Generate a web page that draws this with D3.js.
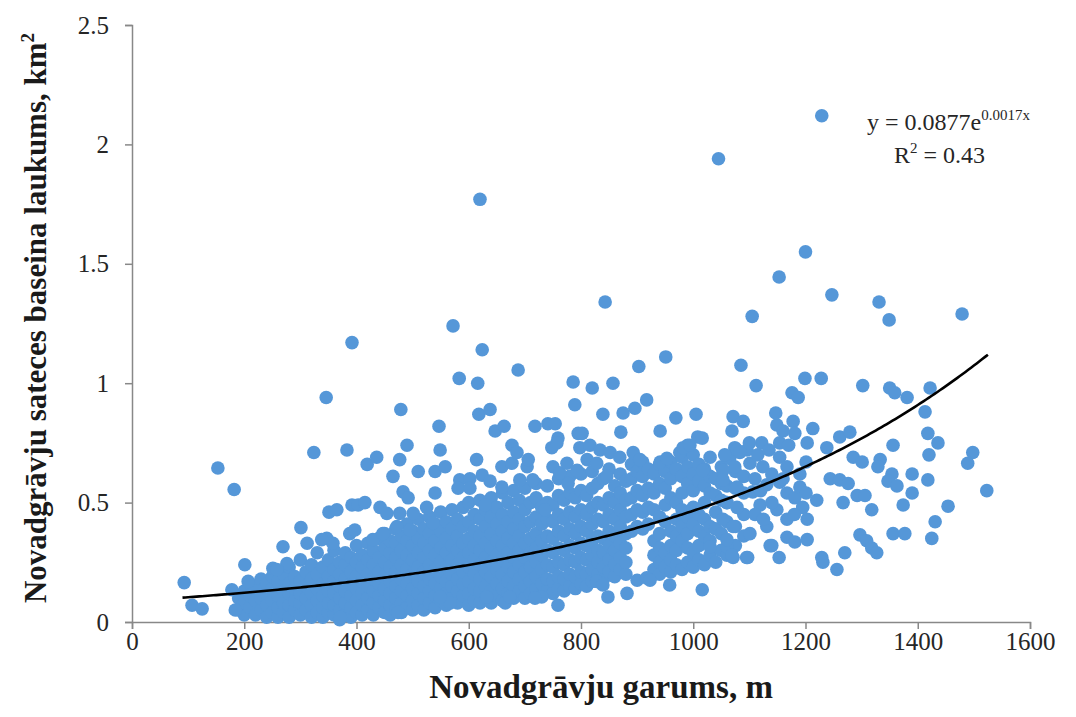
<!DOCTYPE html>
<html>
<head>
<meta charset="utf-8">
<script src="https://cdn.jsdelivr.net/npm/d3@7"></script>
<style>
	body { margin: 0; background: #fff; }
	svg { display: block; }
	.tick text { font-family: "Liberation Serif", "DejaVu Serif", serif; font-size: 25px; fill: #262626; }
	.title { font-family: "Liberation Serif", "DejaVu Serif", serif; font-size: 31px; font-weight: bold; fill: #1a1a1a; }
	.eq { font-family: "Liberation Serif", "DejaVu Serif", serif; font-size: 24px; fill: #262626; }
</style>
</head>
<body>
<svg id="chart" width="1076" height="717"></svg>
<script>
// dense body of the cloud: [length, [areas...]]
const bodyColumns = [
	[190, [0.05, 0.10]],
	[200, [0.03, 0.08, 0.13]],
	[210, [0.06, 0.11, 0.16]],
	[220, [0.03, 0.09, 0.14]],
	[230, [0.05, 0.10, 0.18]],
	[240, [0.02, 0.07, 0.12, 0.16]],
	[250, [0.04, 0.09, 0.14, 0.19]],
	[260, [0.02, 0.06, 0.11, 0.17]],
	[270, [0.04, 0.08, 0.13, 0.20]],
	[280, [0.02, 0.07, 0.12, 0.16, 0.23]],
	[290, [0.05, 0.09, 0.14, 0.19]],
	[300, [0.03, 0.08, 0.12, 0.17, 0.26]],
	[310, [0.05, 0.10, 0.15, 0.21]],
	[320, [0.02, 0.07, 0.12, 0.18, 0.24]],
	[330, [0.04, 0.09, 0.14, 0.20, 0.29]],
	[340, [0.02, 0.06, 0.11, 0.16, 0.23]],
	[350, [0.04, 0.08, 0.13, 0.19, 0.26]],
	[360, [0.03, 0.07, 0.12, 0.17, 0.22, 0.30]],
	[370, [0.01, 0.05, 0.10, 0.15, 0.20, 0.25]],
	[380, [0.03, 0.08, 0.13, 0.18, 0.24, 0.29]],
	[390, [0.02, 0.06, 0.11, 0.16, 0.21, 0.27]],
	[400, [0.04, 0.09, 0.14, 0.19, 0.25, 0.32]],
	[410, [0.03, 0.07, 0.12, 0.17, 0.23, 0.28]],
	[420, [0.05, 0.10, 0.15, 0.20, 0.26, 0.33]],
	[430, [0.03, 0.08, 0.13, 0.18, 0.24, 0.30]],
	[440, [0.06, 0.11, 0.16, 0.21, 0.27, 0.35]],
	[450, [0.04, 0.09, 0.14, 0.19, 0.25, 0.31, 0.37]],
	[460, [0.03, 0.07, 0.12, 0.17, 0.23, 0.29, 0.34]],
	[470, [0.05, 0.10, 0.15, 0.21, 0.27, 0.33, 0.39]],
	[480, [0.04, 0.08, 0.13, 0.18, 0.24, 0.30, 0.36]],
	[490, [0.06, 0.11, 0.16, 0.22, 0.28, 0.34, 0.41]],
	[500, [0.05, 0.09, 0.14, 0.20, 0.26, 0.32, 0.38]],
	[510, [0.07, 0.12, 0.17, 0.23, 0.29, 0.35, 0.43]],
	[520, [0.05, 0.10, 0.15, 0.21, 0.27, 0.33, 0.39]],
	[530, [0.08, 0.13, 0.18, 0.24, 0.30, 0.37, 0.44]],
	[540, [0.06, 0.11, 0.16, 0.22, 0.28, 0.34, 0.41]],
	[550, [0.09, 0.14, 0.19, 0.25, 0.31, 0.38, 0.46]],
	[560, [0.07, 0.12, 0.17, 0.23, 0.29, 0.35, 0.42]],
	[570, [0.10, 0.15, 0.20, 0.26, 0.32, 0.39, 0.47]],
	[580, [0.08, 0.13, 0.18, 0.24, 0.30, 0.36, 0.43]],
	[590, [0.11, 0.16, 0.21, 0.27, 0.33, 0.40, 0.48]],
	[600, [0.07, 0.12, 0.17, 0.23, 0.29, 0.35, 0.42, 0.50]],
	[610, [0.09, 0.14, 0.20, 0.26, 0.32, 0.38, 0.45]],
	[620, [0.08, 0.13, 0.18, 0.24, 0.30, 0.36, 0.43, 0.51]],
	[630, [0.10, 0.15, 0.21, 0.27, 0.33, 0.40, 0.47]],
	[640, [0.08, 0.13, 0.19, 0.25, 0.31, 0.37, 0.44, 0.52]],
	[650, [0.11, 0.16, 0.22, 0.28, 0.34, 0.41, 0.48]],
	[660, [0.09, 0.14, 0.20, 0.26, 0.32, 0.38, 0.45, 0.54]],
	[670, [0.12, 0.17, 0.23, 0.29, 0.35, 0.42, 0.50]],
	[680, [0.10, 0.15, 0.21, 0.27, 0.33, 0.39, 0.46, 0.55]],
	[690, [0.13, 0.18, 0.24, 0.30, 0.36, 0.43, 0.51]],
	[700, [0.10, 0.15, 0.21, 0.27, 0.33, 0.40, 0.47, 0.56]],
	[710, [0.12, 0.17, 0.23, 0.29, 0.35, 0.42, 0.50]],
	[720, [0.14, 0.19, 0.25, 0.31, 0.37, 0.44, 0.52, 0.58]],
	[730, [0.11, 0.16, 0.22, 0.28, 0.34, 0.41, 0.48]],
	[740, [0.13, 0.18, 0.24, 0.30, 0.36, 0.43, 0.50, 0.57]],
	[750, [0.12, 0.17, 0.23, 0.29, 0.35, 0.42, 0.49]],
	[760, [0.14, 0.19, 0.25, 0.31, 0.38, 0.45, 0.53, 0.60]],
	[770, [0.13, 0.18, 0.24, 0.30, 0.36, 0.43, 0.51]],
	[780, [0.15, 0.20, 0.26, 0.32, 0.39, 0.46, 0.54, 0.61]],
	[790, [0.14, 0.19, 0.25, 0.31, 0.37, 0.44, 0.52]],
	[800, [0.16, 0.21, 0.27, 0.33, 0.40, 0.47, 0.55, 0.62]],
	[810, [0.15, 0.20, 0.26, 0.32, 0.38, 0.45, 0.53]],
	[820, [0.17, 0.22, 0.28, 0.34, 0.41, 0.48, 0.56, 0.63]],
	[830, [0.20, 0.25, 0.30, 0.36, 0.43, 0.50, 0.58]],
	[840, [0.18, 0.23, 0.29, 0.35, 0.42, 0.49, 0.60]],
	[850, [0.21, 0.26, 0.32, 0.38, 0.45, 0.52, 0.64]],
	[860, [0.19, 0.24, 0.30, 0.36, 0.43, 0.50, 0.57]],
	[870, [0.22, 0.27, 0.33, 0.40, 0.47, 0.54, 0.62]],
	[880, [0.20, 0.25, 0.31, 0.37, 0.44, 0.51, 0.59]],
	[890, [0.38, 0.45, 0.52, 0.60, 0.66]],
	[900, [0.40, 0.47, 0.55, 0.63]],
	[910, [0.39, 0.46, 0.53, 0.61, 0.67]],
	[920, [0.41, 0.48, 0.56, 0.64]],
	[930, [0.22, 0.28, 0.34, 0.47, 0.54, 0.62]],
	[940, [0.20, 0.25, 0.31, 0.37, 0.44, 0.58, 0.66]],
	[950, [0.23, 0.29, 0.42, 0.49, 0.56, 0.63]],
	[960, [0.21, 0.26, 0.32, 0.38, 0.52, 0.60, 0.67]],
	[970, [0.24, 0.30, 0.36, 0.43, 0.50, 0.64]],
	[980, [0.22, 0.34, 0.40, 0.47, 0.54, 0.61, 0.69]],
	[990, [0.25, 0.31, 0.37, 0.44, 0.58, 0.65]],
	[1000, [0.23, 0.29, 0.41, 0.48, 0.55, 0.62, 0.70]],
	[1010, [0.26, 0.32, 0.38, 0.45, 0.59, 0.66]],
	[1020, [0.24, 0.36, 0.43, 0.50, 0.57, 0.64]],
	[1030, [0.28, 0.34, 0.40, 0.54, 0.61, 0.69]],
	[1040, [0.25, 0.39, 0.46, 0.53, 0.60]],
	[1050, [0.30, 0.37, 0.51, 0.58, 0.65]],
	[1060, [0.28, 0.42, 0.50, 0.57]],
	[1075, [0.32, 0.40, 0.56, 0.63]],
	[1090, [0.36, 0.45, 0.54, 0.61]]
];

// scattered points, [length m, area km2]
const scatterShort = [
	[93, 0.165], [107, 0.07], [125, 0.055], [153, 0.645], [182, 0.555], [178, 0.135], [184, 0.05],
	[201, 0.24], [207, 0.17], [251, 0.225], [276, 0.245], [269, 0.315], [258, 0.22], [301, 0.395],
	[312, 0.33], [324, 0.71], [346, 0.94], [383, 0.72], [392, 1.17], [347, 0.35], [358, 0.33],
	[338, 0.345], [351, 0.46], [365, 0.47], [392, 0.49], [388, 0.37], [403, 0.49], [415, 0.50],
	[419, 0.66], [436, 0.69], [442, 0.48], [454, 0.455], [477, 0.455], [397, 0.385], [429, 0.345],
	[447, 0.37], [472, 0.40], [495, 0.385], [483, 0.545], [492, 0.52], [465, 0.61], [477, 0.68],
	[490, 0.74], [479, 0.89], [501, 0.455], [510, 0.63], [540, 0.63], [558, 0.65], [540, 0.54],
	[536, 0.415], [525, 0.48], [547, 0.82], [549, 0.72], [572, 1.24], [583, 1.02], [584, 0.595],
	[581, 0.56], [474, 0.04], [567, 0.08], [549, 0.105], [371, 0.02]
];
const scatterMid = [
	[602, 0.60], [602, 0.56], [624, 0.615], [638, 0.59], [659, 0.565], [614, 0.68], [616, 1.0],
	[618, 0.87], [620, 1.77], [624, 1.14], [638, 0.89], [647, 0.80], [663, 0.82], [659, 0.65],
	[677, 0.665], [677, 0.74], [686, 0.71], [688, 1.055], [704, 0.65], [706, 0.68], [714, 0.595],
	[691, 0.595], [629, 0.49], [718, 0.82], [741, 0.83], [754, 0.83], [759, 0.77], [748, 0.73],
	[757, 0.75], [750, 0.65], [762, 0.625], [775, 0.665], [793, 0.635], [777, 0.58], [736, 0.47],
	[786, 1.005], [789, 0.91], [795, 0.79], [802, 0.79], [798, 0.73], [811, 0.68], [828, 0.665],
	[846, 0.61], [820, 0.98], [843, 1.34], [857, 1.0], [839, 0.87], [875, 0.875], [896, 0.895],
	[917, 0.93], [871, 0.795], [816, 0.74], [834, 0.72], [852, 0.71], [869, 0.69], [893, 0.71],
	[905, 0.68], [903, 1.07], [951, 1.11], [941, 0.80], [969, 0.855], [1005, 0.87], [1008, 0.775],
	[990, 0.74], [976, 0.71], [941, 0.67], [953, 0.685], [982, 0.73], [994, 0.74], [1016, 0.77],
	[1045, 1.94], [1085, 1.075], [1071, 0.86], [1089, 0.84], [1069, 0.80], [1074, 0.73], [1096, 0.72],
	[1065, 0.685], [1078, 0.72], [1074, 0.65], [1053, 0.635], [1017, 0.635],
	[665, 0.08], [730, 0.105], [759, 0.07], [848, 0.105], [882, 0.12], [828, 0.17], [839, 0.155],
	[900, 0.175], [917, 0.185], [923, 0.175], [958, 0.155], [1016, 0.135], [718, 0.10], [673, 0.105],
	[632, 0.105], [1030, 0.315], [1060, 0.315], [1071, 0.27], [1095, 0.27], [1069, 0.28]
];
const scatterLong = [
	[1105, 1.28], [1153, 1.445], [1200, 1.55], [1229, 2.12], [1247, 1.37], [1331, 1.34], [1349, 1.265],
	[1479, 1.29], [1199, 1.02], [1228, 1.02], [1302, 0.99], [1112, 0.99], [1176, 0.96], [1187, 0.94],
	[1350, 0.98], [1359, 0.96], [1381, 0.94], [1422, 0.98], [1413, 0.88], [1418, 0.79], [1436, 0.75],
	[1356, 0.74], [1498, 0.71], [1489, 0.665], [1420, 0.70], [1418, 0.595], [1523, 0.55], [1454, 0.485],
	[1431, 0.42], [1425, 0.35], [1390, 0.62], [1390, 0.54], [1374, 0.49], [1354, 0.62], [1347, 0.59],
	[1363, 0.57], [1333, 0.68], [1329, 0.65], [1285, 0.69], [1301, 0.67], [1244, 0.60], [1261, 0.595],
	[1276, 0.58], [1292, 0.53], [1306, 0.53], [1267, 0.50], [1318, 0.47], [1356, 0.37], [1377, 0.37],
	[1297, 0.365], [1309, 0.34], [1318, 0.31], [1327, 0.29], [1270, 0.29], [1229, 0.27], [1231, 0.25],
	[1256, 0.22], [1220, 0.51], [1213, 0.81], [1203, 0.75], [1238, 0.73], [1261, 0.775], [1279, 0.795],
	[1147, 0.875], [1149, 0.825], [1178, 0.84], [1181, 0.79], [1122, 0.75], [1154, 0.75], [1201, 0.67],
	[1056, 0.70], [1083, 0.71], [1101, 0.665], [1124, 0.65], [1154, 0.69], [1167, 0.65], [1190, 0.62],
	[1053, 0.595], [1078, 0.565], [1106, 0.545], [1131, 0.575], [1154, 0.585], [1167, 0.54], [1181, 0.52],
	[1190, 0.565], [1060, 0.50], [1078, 0.48], [1119, 0.49], [1149, 0.47], [1195, 0.48], [1053, 0.43],
	[1071, 0.40], [1101, 0.37], [1131, 0.40], [1167, 0.43], [1203, 0.43], [1060, 0.345], [1137, 0.32],
	[1167, 0.355], [1181, 0.335], [1203, 0.345], [1097, 0.27], [1153, 0.27], [1140, 0.32], [1201, 0.54],
	[1110, 0.60], [1120, 0.55], [1140, 0.62], [1160, 0.60], [1140, 0.50], [1110, 0.45], [1125, 0.43],
	[1180, 0.45], [1100, 0.75], [1115, 0.70], [1135, 0.72], [1160, 0.80], [1170, 0.74]
];

const xTicks = [0, 200, 400, 600, 800, 1000, 1200, 1400, 1600];
const yTicks = [0, 0.5, 1, 1.5, 2, 2.5];
const trendA = 0.0877, trendB = 0.00167; // exponential trendline, as drawn
const trendRange = [90, 1525];

const svg = d3.select('#chart');
const x = d3.scaleLinear().domain([0, 1600]).range([132, 1030]);
const y = d3.scaleLinear().domain([0, 2.5]).range([622, 25]);

let points = [];
bodyColumns.forEach(c => c[1].forEach(v => points.push([c[0], v])));
points = points.concat(scatterShort, scatterMid, scatterLong);

// axes
let xAxis = svg.append('g')
	.attr('transform', `translate(0, ${y(0)})`)
	.call(d3.axisBottom(x).tickValues(xTicks).tickSizeOuter(0).tickSize(7).tickPadding(3)
		.tickFormat(d3.format('d')));
let yAxis = svg.append('g')
	.attr('transform', `translate(${x(0)}, 0)`)
	.call(d3.axisLeft(y).tickValues(yTicks).tickSizeOuter(0).tickSize(7).tickPadding(16)
		.tickFormat(d => String(d)));
[xAxis, yAxis].forEach(a => {
	a.select('.domain').attr('stroke', '#888').attr('stroke-width', 1.5);
	a.selectAll('.tick line').attr('stroke', '#888').attr('stroke-width', 1.5);
});

svg.append('g')
	.selectAll('circle')
	.data(points)
	.enter()
	.append('circle')
	.attr('cx', d => x(d[0]))
	.attr('cy', d => y(d[1]))
	.attr('r', 6.8)
	.attr('fill', '#5597d8');

let trend = d3.range(trendRange[0], trendRange[1] + 1, 5).map(v => [v, trendA * Math.exp(trendB * v)]);
svg.append('path')
	.datum(trend)
	.attr('fill', 'none')
	.attr('stroke', '#000')
	.attr('stroke-width', 2.6)
	.attr('d', d3.line().x(d => x(d[0])).y(d => y(d[1])));

// titles
svg.append('text')
	.attr('class', 'title')
	.attr('x', 601)
	.attr('y', 698)
	.style('font-size', '33px')
	.attr('text-anchor', 'middle')
	.text('Novadgrāvju garums, m');

let yt = svg.append('text')
	.attr('class', 'title')
	.attr('transform', 'translate(46, 318) rotate(-90)')
	.attr('text-anchor', 'middle');
yt.append('tspan').text('Novadgrāvju sateces baseina laukums, km');
yt.append('tspan').style('font-size', '19px').attr('dy', -12).text('2');

// equation
let eq = svg.append('text').attr('class', 'eq').attr('x', 867).attr('y', 130);
eq.append('tspan').text('y = 0.0877e');
eq.append('tspan').style('font-size', '15px').attr('dy', -10).text('0.0017x');
let r2 = svg.append('text').attr('class', 'eq').attr('x', 894).attr('y', 163);
r2.append('tspan').text('R');
r2.append('tspan').style('font-size', '15px').attr('dy', -10).text('2');
r2.append('tspan').attr('dy', 10).text(' = 0.43');
</script>
</body>
</html>
